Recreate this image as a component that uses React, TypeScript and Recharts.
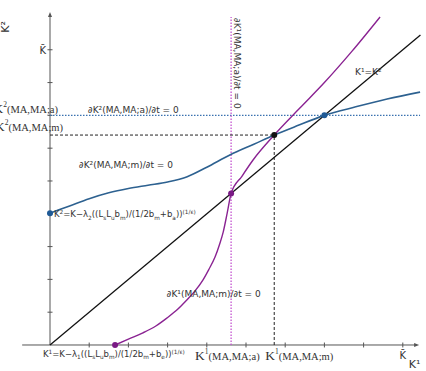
import { ComposedChart, Line, XAxis, YAxis, ReferenceLine, ReferenceDot } from 'recharts'

// capital stock of country 1 (x) and country 2 (y), in model units
const diagK1 = [0, 9.45]

// ∂K²/∂t = 0 locus
const blueK1 = [0, 0.5, 1.0, 1.5, 2.0, 2.5, 3.0, 3.5, 4.0, 4.6, 5.2, 5.72, 6.3, 7.0, 7.8, 8.6, 9.44]
const blueK2 = [4.02, 4.24, 4.46, 4.64, 4.77, 4.87, 4.97, 5.13, 5.42, 5.8, 6.12, 6.4, 6.68, 7.0, 7.26, 7.5, 7.71]

// ∂K¹/∂t = 0 locus
const purpleK1 = [1.66, 2.0, 2.37, 2.7, 2.98, 3.25, 3.49, 3.7, 3.9, 4.05, 4.21, 4.32, 4.42, 4.52, 4.62, 4.9, 5.18, 5.72, 6.38, 7.0, 7.7, 8.42]
const purpleK2 = [0, 0.18, 0.37, 0.58, 0.82, 1.08, 1.37, 1.65, 1.98, 2.3, 2.68, 3.05, 3.45, 4.02, 4.62, 5.15, 5.64, 6.4, 7.23, 8.0, 8.95, 10.0]

const tickSteps = [1, 2, 3, 4, 5, 6, 7, 8, 9]
const kBar = 9
const k1Autarky = 4.62
const k2Autarky = 7
const k1Market = 5.72
const k2Market = 6.4
const k1Floor = 1.66
const k2Floor = 4.02
const xAxisStart = -0.71
const xAxisEnd = 9.34
const yAxisEnd = 10.06

const toPoints = (xs: number[], ys: number[]) => xs.map((x, i) => ({ x, y: ys[i] }))
const diagonal = toPoints(diagK1, diagK1)
const k2Locus = toPoints(blueK1, blueK2)
const k1Locus = toPoints(purpleK1, purpleK2)

const SANS = 'DejaVu Sans'
const SERIF = 'Liberation Serif'
const INK = '#333'
const AXIS = '#555'
const BLUE = '#2d6190'
const PURPLE = '#8a2392'

// "a^{b}_{c}" -> tspans with raised / lowered runs
function rich(s: string, size: number) {
  const runs: { t: string; k: 'n' | 'sup' | 'sub' }[] = []
  let i = 0
  let buf = ''
  while (i < s.length) {
    const c = s[i]
    if ((c === '^' || c === '_') && s[i + 1] === '{') {
      if (buf) runs.push({ t: buf, k: 'n' })
      buf = ''
      const end = s.indexOf('}', i)
      runs.push({ t: s.slice(i + 2, end), k: c === '^' ? 'sup' : 'sub' })
      i = end + 1
    } else {
      buf += c
      i++
    }
  }
  if (buf) runs.push({ t: buf, k: 'n' })
  let shift = 0
  return runs.map((r, j) => {
    const target = r.k === 'sup' ? -size * 0.4 : r.k === 'sub' ? size * 0.28 : 0
    const dy = target - shift
    shift = target
    return (
      <tspan key={j} dy={dy} fontSize={r.k === 'n' ? size : size * 0.68}>
        {r.t}
      </tspan>
    )
  })
}

function note(
  key: string,
  x: number,
  y: number,
  text: string,
  o: { dx?: number; dy?: number; size?: number; anchor?: string; rotate?: number } = {}
) {
  const size = o.size ?? 9
  return (
    <ReferenceDot
      key={key}
      x={x}
      y={y}
      r={1}
      ifOverflow="visible"
      shape={(p: any) => (
        <text
          transform={`translate(${p.cx + (o.dx ?? 0)},${p.cy + (o.dy ?? 0)}) rotate(${o.rotate ?? 0})`}
          textAnchor={o.anchor ?? 'start'}
          fontFamily={SANS}
          fontSize={size}
          fill={INK}
        >
          {rich(text, size)}
        </text>
      )}
    />
  )
}

// serif "K^n(MA,MA;x)" labels with an oversized K
function serifK(key: string, x: number, y: number, sup: string, rest: string, dx: number, dy: number, anchor = 'start') {
  return (
    <ReferenceDot
      key={key}
      x={x}
      y={y}
      r={1}
      ifOverflow="visible"
      shape={(p: any) => (
        <text x={p.cx + dx} y={p.cy + dy} textAnchor={anchor} fontFamily={SERIF} fill={INK}>
          <tspan fontSize={13.5}>K</tspan>
          <tspan fontSize={7.5} dy={-6}>{sup}</tspan>
          <tspan fontSize={10.5} dy={6}>{rest}</tspan>
        </text>
      )}
    />
  )
}

function dot(key: string, x: number, y: number, fill: string) {
  return <ReferenceDot key={key} x={x} y={y} r={3} fill={fill} stroke="none" ifOverflow="visible" />
}

function arrow(key: string, x: number, y: number, dir: 'right' | 'up') {
  return (
    <ReferenceDot
      key={key}
      x={x}
      y={y}
      r={1}
      ifOverflow="visible"
      shape={(p: any) => {
        const { cx, cy } = p
        const pts =
          dir === 'right'
            ? `${cx + 3},${cy} ${cx - 2},${cy - 2} ${cx - 2},${cy + 2}`
            : `${cx},${cy - 3} ${cx - 2},${cy + 2} ${cx + 2},${cy + 2}`
        return <polygon points={pts} fill={AXIS} />
      }}
    />
  )
}

export default function App() {
  return (
    <div style={{ position: 'absolute', left: 0, top: 0, width: 426, height: 371, background: '#fff' }}>
      <ComposedChart width={426} height={371} margin={{ top: 10.4, right: 3.6, bottom: 1.4, left: 10.8 }}>
        <XAxis type="number" dataKey="x" domain={[-1, 9.5]} hide allowDataOverflow />
        <YAxis type="number" dataKey="y" domain={[-0.75, 10.2]} hide allowDataOverflow />

        {/* axes */}
        <ReferenceLine segment={[{ x: xAxisStart, y: 0 }, { x: xAxisEnd, y: 0 }]} stroke={AXIS} ifOverflow="visible" />
        <ReferenceLine segment={[{ x: 0, y: 0 }, { x: 0, y: yAxisEnd }]} stroke={AXIS} ifOverflow="visible" />
        {arrow('ax', xAxisEnd, 0, 'right')}
        {arrow('ay', 0, yAxisEnd, 'up')}
        {tickSteps.map((t) => (
          <ReferenceLine key={`tx${t}`} segment={[{ x: t, y: -0.075 }, { x: t, y: 0.075 }]} stroke={AXIS} ifOverflow="visible" />
        ))}
        {tickSteps.map((t) => (
          <ReferenceLine key={`ty${t}`} segment={[{ x: -0.064, y: t }, { x: 0.064, y: t }]} stroke={AXIS} ifOverflow="visible" />
        ))}

        {/* guide lines */}
        <ReferenceLine
          segment={[{ x: 0, y: k2Autarky }, { x: 9.44, y: k2Autarky }]}
          stroke="#3a72b0"
          strokeWidth={1.3}
          strokeDasharray="1.5 1.5"
          ifOverflow="visible"
        />
        <ReferenceLine
          segment={[{ x: k1Autarky, y: 0 }, { x: k1Autarky, y: 10.0 }]}
          stroke="#c455d0"
          strokeWidth={1.3}
          strokeDasharray="1.5 1.5"
          ifOverflow="visible"
        />
        <ReferenceLine
          segment={[{ x: 0, y: k2Market }, { x: k1Market, y: k2Market }]}
          stroke="#222"
          strokeDasharray="3 2"
          ifOverflow="visible"
        />
        <ReferenceLine
          segment={[{ x: k1Market, y: 0 }, { x: k1Market, y: k2Market }]}
          stroke="#222"
          strokeDasharray="3 2"
          ifOverflow="visible"
        />

        <Line data={diagonal} dataKey="y" type="linear" stroke="#111" strokeWidth={1.3} dot={false} activeDot={false} isAnimationActive={false} />
        <Line data={k2Locus} dataKey="y" type="monotone" stroke={BLUE} strokeWidth={1.6} dot={false} activeDot={false} isAnimationActive={false} />
        <Line data={k1Locus} dataKey="y" type="monotone" stroke={PURPLE} strokeWidth={1.4} dot={false} activeDot={false} isAnimationActive={false} />

        {dot('d1', 0, k2Floor, '#1f5a96')}
        {dot('d2', k2Autarky, k2Autarky, '#1f5a96')}
        {dot('d3', k1Market, k2Market, '#111')}
        {dot('d4', k1Autarky, k1Autarky, '#7a1a85')}
        {dot('d5', k1Floor, 0, '#7a1a85')}

        {/* text */}
        {note('l1', 0, k2Floor, 'K^{2}=K−λ_{2}((L_{s}L_{u}b_{m})/(1/2b_{m}+b_{a}))^{(1/ε)}', { dx: 4, dy: 4, size: 8.5 })}
        {note('l2', 0, 0, 'K^{1}=K−λ_{1}((L_{s}L_{u}b_{m})/(1/2b_{m}+b_{e}))^{(1/ε)}', { dx: -7, dy: 12, size: 8.5 })}
        {note('l3', 0.74, 5.4, '∂K²(MA,MA;m)/∂t = 0')}
        {note('l4', 0.97, 7.07, '∂K²(MA,MA;a)/∂t = 0')}
        {note('l5', 2.98, 1.46, '∂K¹(MA,MA;m)/∂t = 0')}
        {note('l6', k1Autarky, yAxisEnd, '∂K¹(MA,MA;a)/∂t = 0', { dx: 3, dy: 3, rotate: 90 })}
        {note('l7', 7.78, 8.23, 'K¹=K²')}
        {note('l8', 0, kBar, 'K\u0304', { dx: -4, dy: 4, anchor: 'end', size: 10 })}
        {note('l9', kBar, 0, 'K\u0304', { dy: 14, anchor: 'middle', size: 10 })}
        {note('l10', kBar, 0, 'K¹', { dx: 6, dy: 23, size: 11 })}
        {note('l11', 0, yAxisEnd, 'K²', { dx: -41, dy: 12, anchor: 'middle', size: 11, rotate: -90 })}
        {serifK('s1', k1Autarky, 0, '1', '(MA,MA;a)', -36, 15)}
        {serifK('s2', k1Market, 0, '1', '(MA,MA;m)', -9, 15)}
        {serifK('s3', 0, k2Autarky, '2', '(MA,MA;a)', 8, -2, 'end')}
        {serifK('s4', 0, k2Market, '2', '(MA,MA;m)', 13, -4, 'end')}
      </ComposedChart>
    </div>
  )
}
